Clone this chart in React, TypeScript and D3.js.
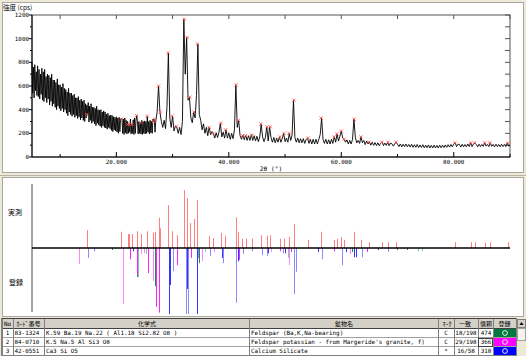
import React from 'react';
import * as d3 from 'd3';

// ---- measured pattern, low-angle part: cps from 5.0° step 0.125° ----
const LOW_START = 5;
const LOW_STEP = 0.125;
const intensityLow: number[] = [
  800, 540, 760, 500, 780, 560, 720, 520,
  770, 510, 740, 490, 700, 530, 750, 480,
  720, 470, 740, 500, 680, 460, 700, 490,
  690, 440, 670, 470, 700, 430, 650, 450,
  650, 420, 630, 400, 660, 430, 610, 410,
  610, 390, 590, 410, 620, 380, 580, 400,
  570, 370, 550, 350, 580, 380, 540, 360,
  540, 345, 520, 360, 530, 335, 500, 350,
  500, 325, 510, 340, 480, 315, 490, 330,
  470, 310, 480, 300, 450, 330, 440, 360,
  460, 295, 430, 310, 450, 285, 420, 300,
  420, 280, 410, 265, 430, 285, 400, 270,
  395, 260, 400, 250, 380, 265, 390, 250,
  380, 245, 360, 235, 370, 250, 350, 240,
  355, 225, 350, 215, 340, 230, 335, 220,
  340, 210, 330, 200, 335, 215, 320, 320,
  325, 200, 320, 190, 330, 205, 310, 195,
  300, 200, 275, 210, 320, 195, 275, 200,
  315, 190, 330, 200, 310, 350, 300, 195,
  300, 200, 290, 195, 310, 190, 300, 200,
  305, 195, 300, 200, 345, 210, 300, 195,
  310, 205, 300, 200, 320, 300, 320, 210,
];

// ---- measured pattern, main part: cps from 27.0° step 0.25° ----
const MAIN_START = 27;
const MAIN_STEP = 0.25;
const intensityMain: number[] = [
  300, 380, 600, 380, 300, 250, 310, 240,
  420, 880, 330, 250, 345, 220, 260, 250, 200, 250, 190, 300, 1165, 700, 1010, 480,
  505, 330, 290, 380, 330, 520, 955, 360, 310, 230, 280, 200, 250, 180, 250, 190,
  215, 200, 160, 205, 165, 210, 285, 170, 210, 160, 230, 160, 205, 150, 200, 155,
  230, 610, 250, 310, 180, 150, 185, 145, 185, 140, 180, 140, 190, 140, 180, 135,
  175, 130, 170, 280, 170, 130, 165, 255, 135, 255, 165, 125, 165, 120, 160, 125,
  170, 125, 155, 200, 130, 160, 125, 200, 140, 185, 480, 165, 125, 160, 120, 155,
  120, 155, 115, 150, 160, 115, 150, 110, 150, 110, 150, 110, 150, 190, 330, 150,
  115, 150, 110, 145, 110, 150, 115, 170, 125, 195, 135, 175, 220, 160, 150, 125,
  145, 110, 140, 110, 150, 320, 165, 120, 140, 115, 170, 120, 140, 105, 135, 110,
  128, 100, 125, 98, 122, 96, 120, 95, 118, 125, 96, 118, 98, 125, 95, 118,
  112, 92, 110, 125, 108, 88, 110, 86, 108, 88, 110, 86, 106, 84, 108, 82,
  104, 82, 106, 80, 102, 80, 104, 78, 100, 78, 102, 76, 98, 76, 100, 77,
  98, 76, 100, 78, 100, 80, 102, 82, 104, 84, 106, 86, 108, 120, 88, 108,
  106, 84, 108, 86, 106, 86, 110, 88, 120, 88, 108, 120, 106, 86, 108, 88,
  106, 90, 120, 92, 106, 88, 120, 90, 106, 86, 108, 88, 106, 86, 108, 88,
  106, 88, 118, 92, 100,
];

// ---- detected peaks ----
const peakTheta = [14.7, 20.9, 22.0, 22.3, 22.8, 23.6, 24.3, 25.5, 26.6, 26.8, 27.5, 27.8, 29.2, 29.9, 30.7,
  32.1, 32.6, 33.1, 33.8, 34.4, 36.5, 37.2, 38.6, 39.4, 41.3, 41.7, 42.4, 43.0, 44.1, 45.7, 46.8, 47.4,
  49.1, 49.8, 50.7, 51.6, 54.1, 56.4, 58.7, 59.2, 60.0, 60.5, 62.3, 63.5, 64.9, 67.2, 68.3, 69.7,
  80.2, 83.0, 83.7, 85.5, 86.4, 89.6];
const peakCps = [360, 320, 275, 275, 275, 350, 290, 345, 300, 320, 600, 380, 880, 345, 260,
  1165, 1010, 505, 380, 955, 250, 200, 285, 230, 610, 310, 180, 180, 185, 280, 255, 255,
  170, 200, 200, 480, 160, 330, 170, 195, 220, 150, 320, 170, 125, 125, 125, 125,
  120, 120, 120, 120, 120, 118];
const peakRel = [31, 28, 24, 24, 24, 29, 24, 29, 26, 28, 52, 34, 74, 29, 22,
  100, 86, 43, 50, 83, 21, 17, 26, 21, 53, 28, 16, 16, 16, 22, 21, 22,
  16, 16, 19, 41, 14, 28, 14, 16, 19, 14, 28, 14, 10, 10, 10, 10,
  10, 10, 10, 9, 10, 10];

// ---- reference card lines: [2θ, relative intensity, matched(1)/unmatched(0)] ----
const card1Lines: [number, number, number][] = [
  [19.3, 3, 1], [23.6, 44, 1], [23.9, 44, 0], [25.3, 9, 0], [26.9, 58, 1], [27.6, 30, 1],
  [30.0, 32, 1], [34.7, 23, 1], [35.8, 6, 0], [50.5, 15, 0], [61.9, 6, 1], [69.9, 3, 1],
  [71.7, 3, 1], [73.6, 5, 0], [74.3, 5, 0],
];
const card2Lines: [number, number, number][] = [
  [13.3, 6, 0], [13.4, 24, 0], [15.0, 8, 1], [21.1, 85, 0], [22.5, 17, 1], [23.7, 41, 1],
  [24.4, 9, 0], [25.0, 8, 0], [25.7, 38, 1], [26.6, 50, 0], [27.1, 89, 1], [27.5, 98, 1],
  [30.7, 26, 1], [33.3, 15, 1], [35.3, 20, 0], [37.4, 6, 0], [41.8, 18, 1], [47.5, 6, 0],
  [49.1, 5, 1], [50.7, 26, 0], [51.1, 6, 1], [58.7, 5, 1], [61.5, 9, 0], [64.6, 6, 1],
];
const card3Lines: [number, number, number][] = [
  [14.9, 15, 0], [16.1, 5, 0], [23.0, 5, 1], [29.4, 100, 1], [29.6, 56, 1], [30.1, 35, 0],
  [32.3, 100, 0], [32.6, 62, 1], [32.8, 100, 0], [34.4, 100, 1], [34.6, 15, 0], [36.7, 12, 0],
  [38.8, 15, 1], [39.0, 23, 0], [41.3, 83, 0], [41.7, 20, 1], [42.5, 9, 0], [44.1, 5, 0],
  [45.9, 11, 0], [46.8, 12, 0], [47.0, 8, 1], [49.7, 8, 0], [50.0, 8, 1], [51.6, 70, 0],
  [52.0, 36, 0], [55.9, 6, 1], [56.6, 17, 0], [60.1, 26, 0], [60.8, 6, 1], [62.3, 14, 1],
  [62.6, 14, 1], [63.7, 14, 0], [66.5, 3, 1], [68.3, 6, 0],
];

const yTicks = [0, 200, 400, 600, 800, 1000, 1200];
const xTicks = [20, 40, 60, 80];
const xTickLabels = ['20.000', '40.000', '60.000', '80.000'];

// ---- table ----
const headers = ['No', 'ｶｰﾄﾞ番号', '化学式', '鉱物名', 'ﾏｰｸ', '一致', '信頼', '登録'];
const rowNos = ['1', '2', '3'];
const cardNos = ['83-1324', '84-0710', '42-0551'];
const formulas = ['K.59 Ba.19 Na.22 ( Al1.18 Si2.82 O8 )', 'K.5 Na.5 Al Si3 O8', 'Ca3 Si O5'];
const minerals = ['Feldspar (Ba,K,Na-bearing)', "Feldspar potassian - from Margeride's granite, f)", 'Calcium Silicate'];
const marks = ['C', 'C', '*'];
const matches = ['18/198', '29/198', '16/58'];
const reliab = ['474', '366', '318'];

const cardFill = ['#00793f', '#ff00ff', '#0000ff'];
const cardDark = ['#1f8a55', '#ff22ff', '#3535ff'];
const cardLight = ['#86c7a6', '#ff88ff', '#8a8aff'];

const MONO = "'DejaVu Sans Mono', 'Noto Sans CJK JP', monospace";
const CJK = "'Noto Sans CJK JP', 'DejaVu Sans', sans-serif";

export default function App() {
  const x = d3.scaleLinear().domain([5, 90]).range([32, 510]);
  const y = d3.scaleLinear().domain([0, 1200]).range([157, 15]);
  const upS = d3.scaleLinear().domain([0, 100]).range([248, 190]);
  const downS = d3.scaleLinear().domain([0, 100]).range([248, 314]);

  const pts: [number, number][] = [
    ...intensityLow.map((v, i) => [x(LOW_START + i * LOW_STEP), y(v)] as [number, number]),
    ...intensityMain.map((v, i) => [x(MAIN_START + i * MAIN_STEP), y(v)] as [number, number]),
  ];
  const path = d3.line()(pts) || '';

  const yMinor = d3.range(0, 1201, 100);
  const xMinor = d3.range(10, 91, 10);

  const colX = [2, 13, 44, 249, 438, 454, 478, 493, 516];
  const headCenters = [7.5, 28.5, 147, 344, 447, 465, 486, 504.5];
  const rowTop = [328, 337, 346];
  const rowH = 9;

  const cards = [card1Lines, card2Lines, card3Lines];

  return (
    <svg width={526} height={356} style={{ position: 'absolute', left: 0, top: 0 }}>
      <rect x={0} y={0} width={526} height={356} fill="#ece9d8" />
      <rect x={2.5} y={2.5} width={521} height={170} fill="#fff" stroke="#a8a8a0" />
      <line x1={0} x2={526} y1={175.5} y2={175.5} stroke="#b8b4a4" />
      <rect x={2.5} y={177.5} width={521} height={139} fill="#fff" stroke="#a8a8a0" />

      <text x={3} y={10} fontSize={6.5} fontFamily={CJK} fill="#000">強度 (cps)</text>

      <rect x={32} y={15} width={478} height={142} fill="none" stroke="#555" strokeWidth={1} />
      <line x1={32} x2={32} y1={15} y2={157} stroke="#000" />
      <line x1={32} x2={510} y1={157} y2={157} stroke="#000" />

      {yMinor.map((v) => (
        <g key={'ym' + v}>
          <line x1={v % 200 === 0 ? 29 : 30} x2={32} y1={y(v)} y2={y(v)} stroke="#000" />
          <line x1={505} x2={510} y1={y(v)} y2={y(v)} stroke="#555" />
        </g>
      ))}
      {yTicks.map((v) => (
        <text key={'yt' + v} x={29} y={y(v) + 2} fontSize={5.9} fontFamily={MONO} textAnchor="end" fill="#000">{v}</text>
      ))}
      {xMinor.map((v) => (
        <g key={'xm' + v}>
          <line x1={x(v)} x2={x(v)} y1={15} y2={19} stroke="#555" />
          <line x1={x(v)} x2={x(v)} y1={157} y2={v % 20 === 0 ? 152 : 154} stroke="#000" />
        </g>
      ))}
      {xTicks.map((v, i) => (
        <text key={'xt' + v} x={x(v)} y={164} fontSize={5.9} fontFamily={MONO} textAnchor="middle" fill="#000">{xTickLabels[i]}</text>
      ))}
      <text x={271} y={171} fontSize={6.2} fontFamily={MONO} textAnchor="middle" fill="#000">2θ (°)</text>

      <path d={path} fill="none" stroke="#000" strokeWidth={0.9} strokeLinejoin="bevel" />
      {peakTheta.map((t, i) => {
        const cx = x(t);
        const cy = y(peakCps[i]);
        return (
          <g key={'pk' + i} stroke="#ff4a4a" strokeWidth={0.8}>
            <line x1={cx - 1.6} x2={cx + 1.6} y1={cy - 1.6} y2={cy + 1.6} />
            <line x1={cx - 1.6} x2={cx + 1.6} y1={cy + 1.6} y2={cy - 1.6} />
          </g>
        );
      })}

      <text x={15} y={215} fontSize={7} fontFamily={CJK} textAnchor="middle" fill="#000">実測</text>
      <text x={16} y={285} fontSize={7} fontFamily={CJK} textAnchor="middle" fill="#000">登録</text>
      <line x1={32} x2={32} y1={184} y2={312} stroke="#444" />
      {peakTheta.map((t, i) => (
        <line key={'rs' + i} x1={Math.round(x(t)) + 0.5} x2={Math.round(x(t)) + 0.5} y1={248} y2={upS(peakRel[i])} stroke="#ff7f7f" />
      ))}
      {cards.map((lines, ci) =>
        lines.map(([t, r, m], j) => (
          <line key={'c' + ci + '-' + j} x1={Math.round(x(t)) + 0.5} x2={Math.round(x(t)) + 0.5} y1={248} y2={downS(r)}
            stroke={m ? cardDark[ci] : cardLight[ci]} />
        ))
      )}
      <line x1={32} x2={510} y1={248} y2={248} stroke="#000" strokeWidth={1.6} />

      <rect x={1.5} y={318.5} width={515} height={37} fill="#fff" stroke="#808080" />
      <rect x={2} y={319} width={514} height={9} fill="#d4d0c8" />
      <line x1={2} x2={516} y1={318.5} y2={318.5} stroke="#404040" />
      <line x1={2} x2={516} y1={328.5} y2={328.5} stroke="#404040" />
      {rowTop.slice(1).map((t) => (
        <line key={'rl' + t} x1={2} x2={516} y1={t + 0.5} y2={t + 0.5} stroke="#a0a0a0" />
      ))}
      {colX.map((cx, i) => (
        <line key={'cl' + i} x1={cx + 0.5} x2={cx + 0.5} y1={319} y2={356} stroke="#808080" />
      ))}
      {headers.map((h, i) => (
        <text key={'h' + i} x={headCenters[i]} y={326} fontSize={6} fontFamily={MONO} textAnchor="middle" fill="#000">{h}</text>
      ))}
      {rowNos.map((n, r) => {
        const ty = rowTop[r] + 7;
        return (
          <g key={'row' + r} fontSize={5.9} fontFamily={MONO} fill="#000">
            <text x={7.5} y={ty} textAnchor="middle">{n}</text>
            <text x={14.5} y={ty}>{cardNos[r]}</text>
            <text x={46} y={ty}>{formulas[r]}</text>
            <text x={251} y={ty}>{minerals[r]}</text>
            <text x={446} y={ty} textAnchor="middle">{marks[r]}</text>
            <text x={466} y={ty} textAnchor="middle">{matches[r]}</text>
            {r === 1 && <rect x={478.5} y={rowTop[r] + 1.5} width={14} height={8} fill="none" stroke="#404040" />}
            <text x={486} y={ty} textAnchor="middle">{reliab[r]}</text>
            <rect x={494} y={rowTop[r] + 1} width={22} height={rowH - 1} fill={cardFill[r]} />
            <circle cx={505} cy={rowTop[r] + 5} r={2.4} fill="none" stroke="#fff" strokeWidth={0.9} />
          </g>
        );
      })}
      <rect x={517} y={318} width={9} height={38} fill="#ece9d8" />
      <rect x={517.5} y={319.5} width={8} height={8} fill="#d4d0c8" stroke="#808080" />
      <path d="M519.5,325 L521.5,322 L523.5,325 Z" fill="#000" />
      <rect x={517.5} y={328.5} width={8} height={12} fill="#f4f3ee" stroke="#a0a0a0" />
    </svg>
  );
}
